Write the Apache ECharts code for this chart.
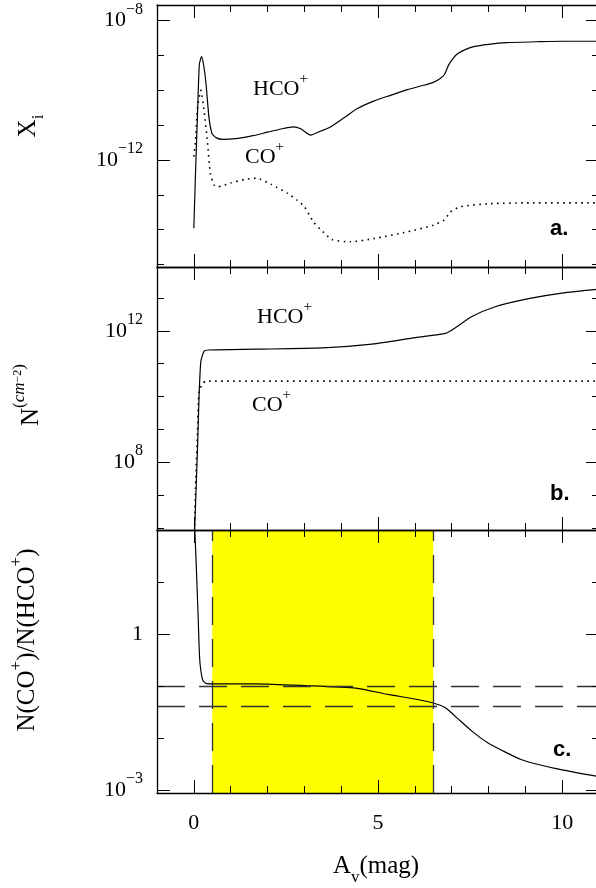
<!DOCTYPE html>
<html><head><meta charset="utf-8">
<script src="https://cdn.jsdelivr.net/npm/echarts@6/dist/echarts.min.js"></script>
<style>html,body{margin:0;padding:0;overflow:hidden;background:#fff}#c{width:600px;height:888px}</style>
</head><body><div id="c"></div>
<script>
// ---------------- data ----------------
// x axis: A_v (mag)
const xMin = -1, xMax = 11;
const xMajorTicks = [0, 5, 10];
const xMinorTicks = [0, 1, 2, 3, 4, 5, 6, 7, 8, 9, 10];

// Panel a: fractional abundance X_i
const xHcoA = [0,0.05,0.1,0.15,0.21,0.27,0.33,0.41,0.49,0.6,0.8,1.2,1.6,2.0,2.4,2.7,2.9,3.17,3.45,3.71,4.1,4.44,4.9,5.34,5.8,6.24,6.5,6.69,6.8,6.92,7.05,7.15,7.35,7.6,8.0,8.5,9.4,10,11];
const yHcoA = [1.1e-14,5.9e-13,2.2e-11,5.6e-10,9.3e-10,5.0e-10,1.6e-10,1.7e-11,5.9e-12,4.4e-12,3.9e-12,4.2e-12,5.0e-12,6.3e-12,7.9e-12,8.9e-12,7.9e-12,5.2e-12,6.8e-12,8.9e-12,1.7e-11,3.0e-11,5.0e-11,7.2e-11,1.05e-10,1.4e-10,1.7e-10,2.2e-10,2.8e-10,5.4e-10,8.5e-10,1.1e-9,1.45e-9,1.8e-9,2.1e-9,2.35e-9,2.5e-9,2.57e-9,2.57e-9];
const xCoA = [0,0.05,0.1,0.19,0.28,0.37,0.45,0.55,0.65,1.0,1.4,1.7,2.1,2.55,2.8,3.0,3.26,3.5,3.75,4.25,4.9,5.8,6.5,6.8,6.96,7.24,8.05,9.0,11];
const yCoA = [1.26e-12,4.0e-12,3.2e-11,1.0e-10,2.5e-11,3.2e-12,4.1e-13,1.9e-13,1.7e-13,2.2e-13,2.8e-13,3.0e-13,2.0e-13,1.1e-13,7.1e-14,4.6e-14,1.6e-14,8.9e-15,5.2e-15,4.5e-15,5.6e-15,8.7e-15,1.35e-14,1.9e-14,3.2e-14,4.6e-14,5.6e-14,5.9e-14,5.9e-14];
const yTickExpA = [-15,-14,-13,-12,-11,-10,-9,-8];
const yLabelExpA = [-12,-8];

// Panel b: column density N (cm^-2)
const xHcoB = [0.02,0.1,0.14,0.19,0.28,0.41,1.68,3.49,4.84,6.02,6.83,7.01,7.55,8.18,9.09,9.99,11];
const yHcoB = [8e5,2.7e8,8.7e9,1.15e11,2.4e11,2.6e11,2.75e11,3.0e11,3.9e11,6.2e11,8.3e11,1.05e12,2.7e12,5.4e12,9.5e12,1.4e13,1.85e13];
const xCoB = [0.02,0.05,0.1,0.14,0.24,0.33,11];
const yCoB = [8e5,2.6e7,8.5e8,1.4e10,2.5e10,2.95e10,2.95e10];
const yTickExpB = [6,7,8,9,10,11,12,13];
const yLabelExpB = [8,12];

// Panel c: N(CO+)/N(HCO+)
const xRatioC = [0.025,0.07,0.12,0.16,0.24,0.33,0.5,1.7,3.0,4.4,5.3,6.0,6.5,6.83,7.1,7.55,8.0,8.9,9.8,11];
const yRatioC = [110,17,1.9,0.32,0.13,0.112,0.11,0.11,0.102,0.091,0.068,0.056,0.047,0.038,0.026,0.0135,0.0079,0.0038,0.0026,0.0018];
const yTickExpC = [-3,-2,-1,0,1,2];
const yLabelExpC = [-3,0];
const bandX = [0.5, 6.5];
const refRatios = [0.1, 0.04];

// ---------------- layout / style ----------------
const FONT = "'Liberation Serif', serif";
const panels = [
  {top:5,   height:262, yMin:-15.07, yMax:-7.55, minor:yTickExpA, major:yLabelExpA},
  {top:267, height:263, yMin:5.94,   yMax:13.94, minor:yTickExpB, major:yLabelExpB},
  {top:530, height:263, yMin:-3.06,  yMax:2.0,   minor:yTickExpC, major:yLabelExpC}
];

const grids = [], xAxes = [], yAxes = [];
panels.forEach((p, i) => {
  grids.push({left:157, right:1, top:p.top, height:p.height, containLabel:false, outerBoundsMode:'none'});
  ['bottom','top'].forEach(pos => [true,false].forEach(major => {
    xAxes.push({type:'value', gridIndex:i, position:pos, min:xMin, max:xMax, z:10,
      axisLine:{show:major, onZero:false, lineStyle:{color:'#000', width:1.3}},
      axisTick:{show:true, inside:true, length:major?13:7, customValues:major?xMajorTicks:xMinorTicks, lineStyle:{color:'#000', width:1}},
      axisLabel:{show:major && pos==='bottom' && i===2, customValues:xMajorTicks, margin:19,
        fontFamily:FONT, fontSize:22, color:'#000'},
      splitLine:{show:false}});
  }));
  ['left','right'].forEach(pos => [true,false].forEach(major => {
    yAxes.push({type:'value', gridIndex:i, position:pos, min:p.yMin, max:p.yMax, z:10,
      axisLine:{show:major, onZero:false, lineStyle:{color:'#000', width:1.3}},
      axisTick:{show:true, inside:true, length:major?13:7, customValues:major?p.major:p.minor, lineStyle:{color:'#000', width:1}},
      axisLabel:{show:major && pos==='left', customValues:p.major, margin:14,
        formatter: v => v === 0 ? '{b|1}' : '{b|10}{s|' + (v < 0 ? '\u2212' : '') + Math.abs(v) + '}',
        rich:{
          b:{fontFamily:FONT, fontSize:22, color:'#000', verticalAlign:'middle'},
          s:{fontFamily:FONT, fontSize:16, color:'#000', verticalAlign:'top', padding:[0,0,22,0]}
        }},
      splitLine:{show:false}});
  }));
});

const toPts = (xs, ys) => xs.map((x, k) => [x, Math.log10(ys[k])]);
function curve(i, xs, ys, dotted) {
  return {type:'line', xAxisIndex:4*i, yAxisIndex:4*i, data:toPts(xs, ys), symbol:'none',
    smooth:0.2, clip:true, silent:true, z:3,
    lineStyle:{color:'#000', width:dotted?1.6:1.2, type:dotted?[1.6,4.4]:'solid'}};
}

const series = [
  curve(0, xHcoA, yHcoA, false),
  curve(0, xCoA, yCoA, true),
  curve(1, xHcoB, yHcoB, false),
  curve(1, xCoB, yCoB, true),
  {type:'line', xAxisIndex:8, yAxisIndex:8, data:[], z:1, silent:true,
    markArea:{silent:true, itemStyle:{color:'#ffff00'}, data:[[{xAxis:bandX[0]},{xAxis:bandX[1]}]]}},
  {type:'line', xAxisIndex:8, yAxisIndex:8, data:[], z:2, silent:true,
    markLine:{silent:true, symbol:['none','none'], label:{show:false},
      lineStyle:{color:'#333', width:1.3, type:[28,14]},
      data:[{xAxis:bandX[0]},{xAxis:bandX[1]},{yAxis:Math.log10(refRatios[0])},{yAxis:Math.log10(refRatios[1])}]}},
  curve(2, xRatioC, yRatioC, false)
];

const annRich = {
  b:{fontFamily:FONT, fontSize:22, fill:'#000', verticalAlign:'middle'},
  s:{fontFamily:FONT, fontSize:15, fill:'#000', verticalAlign:'top', padding:[0,0,20,0]}
};
const titleRich = {
  b:{fontFamily:FONT, fontSize:25, fill:'#000', verticalAlign:'middle'},
  s:{fontFamily:FONT, fontSize:17, fill:'#000', verticalAlign:'top', padding:[0,0,22,0]},
  si:{fontFamily:FONT, fontSize:17, fontStyle:'italic', fill:'#000', verticalAlign:'top', padding:[0,0,22,0]},
  ss:{fontFamily:FONT, fontSize:12, fill:'#000', verticalAlign:'top'},
  sub:{fontFamily:FONT, fontSize:17, fill:'#000', verticalAlign:'bottom', padding:[22,0,0,0]}
};
function txt(x, y, text, rich, align, rot) {
  return {type:'text', x:x, y:y, rotation:rot||0, z:20, silent:true,
    style:{text:text, rich:rich, align:align, verticalAlign:'middle', fill:'#000'}};
}
function panelTag(x, y, t) {
  return {type:'text', x:x, y:y, z:20, silent:true,
    style:{text:t, fontFamily:"'Liberation Sans', sans-serif", fontWeight:'bold', fontSize:22, fill:'#000', align:'left', verticalAlign:'middle'}};
}
const graphic = [
  txt(253, 89, '{b|HCO}{s|+}', annRich, 'left'),
  txt(245, 157.5, '{b|CO}{s|+}', annRich, 'left'),
  txt(257, 317.5, '{b|HCO}{s|+}', annRich, 'left'),
  txt(252, 405, '{b|CO}{s|+}', annRich, 'left'),
  panelTag(550, 229, 'a.'),
  panelTag(550, 494, 'b.'),
  panelTag(553, 750, 'c.'),
  txt(28, 126, '{b|X}{sub|i}', titleRich, 'center', Math.PI/2),
  txt(31, 395, '{b|N}{s|(}{si|cm}{ss|\u22122}{s|)}', titleRich, 'center', Math.PI/2),
  txt(27.5, 640, '{b|N(CO}{s|+}{b|)/N(HCO}{s|+}{b|)}', titleRich, 'center', Math.PI/2),
  txt(376, 866.5, '{b|A}{sub|v}{b|(mag)}', titleRich, 'center')
];

const chart = echarts.init(document.getElementById('c'), null, {renderer:'canvas'});
chart.setOption({animation:false, backgroundColor:'#fff', grid:grids, xAxis:xAxes, yAxis:yAxes, series:series, graphic:graphic});
</script></body></html>
